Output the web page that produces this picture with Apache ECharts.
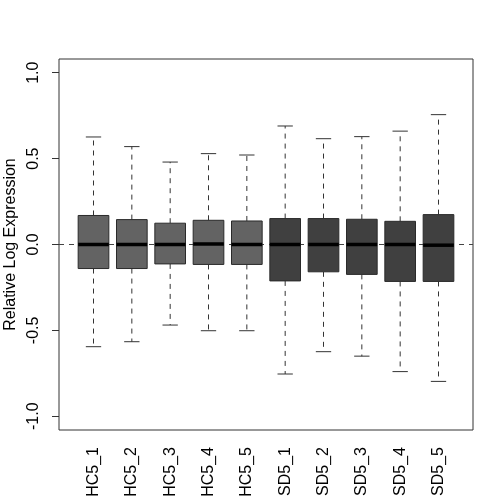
<!DOCTYPE html>
<html>
<head>
<meta charset="utf-8">
<script src="https://cdn.jsdelivr.net/npm/echarts@6/dist/echarts.min.js"></script>
<style>
  html, body { margin: 0; padding: 0; background: #fff; }
  #main { width: 504px; height: 504px; }
</style>
</head>
<body>
<div id="main"></div>
<script>
// samples, left to right
var samples = ['HC5_1', 'HC5_2', 'HC5_3', 'HC5_4', 'HC5_5', 'SD5_1', 'SD5_2', 'SD5_3', 'SD5_4', 'SD5_5'];
// box statistics
var whiskerLow  = [-0.595, -0.566, -0.469, -0.502, -0.502, -0.754, -0.624, -0.650, -0.740, -0.797];
var q1          = [-0.140, -0.140, -0.113, -0.116, -0.116, -0.212, -0.159, -0.174, -0.215, -0.215];
var medians     = [0.000, 0.000, 0.000, 0.003, 0.000, 0.000, 0.000, 0.000, 0.000, -0.004];
var q3          = [0.169, 0.145, 0.124, 0.141, 0.137, 0.151, 0.151, 0.147, 0.135, 0.174];
var whiskerHigh = [0.626, 0.570, 0.480, 0.529, 0.521, 0.690, 0.616, 0.628, 0.660, 0.756];
// group of each sample (0 = HC, 1 = SD)
var groups = [0, 0, 0, 0, 0, 1, 1, 1, 1, 1];
var yTicks = [-1, -0.5, 0, 0.5, 1];

var fills = ['#636363', '#404040'];
var font = 'Liberation Sans, Arial, Helvetica, sans-serif';

var boxData = samples.map(function(s, i) {
	return [i + 1, whiskerLow[i], q1[i], medians[i], q3[i], whiskerHigh[i], groups[i]];
});
var xTicks = samples.map(function(s, i) { return i + 1; });

var myChart = echarts.init(document.getElementById('main'), null, { renderer: 'canvas' });

function renderBox(params, api) {
	var x = api.value(0);
	var w = api.size([0.8, 0])[0];
	var pLow = api.coord([x, api.value(1)]);
	var pQ1 = api.coord([x, api.value(2)]);
	var pMed = api.coord([x, api.value(3)]);
	var pQ3 = api.coord([x, api.value(4)]);
	var pHigh = api.coord([x, api.value(5)]);
	var cx = pMed[0];
	var dash = { stroke: '#333', lineWidth: 1, lineDash: [5, 5] };
	var solid = { stroke: '#333', lineWidth: 1 };
	return {
		type: 'group',
		children: [
			{ type: 'line', shape: { x1: cx, y1: pQ3[1], x2: cx, y2: pHigh[1] }, style: dash },
			{ type: 'line', shape: { x1: cx, y1: pQ1[1], x2: cx, y2: pLow[1] }, style: dash },
			{ type: 'line', shape: { x1: cx - w / 4, y1: pHigh[1], x2: cx + w / 4, y2: pHigh[1] }, style: solid },
			{ type: 'line', shape: { x1: cx - w / 4, y1: pLow[1], x2: cx + w / 4, y2: pLow[1] }, style: solid },
			{ type: 'rect', shape: { x: cx - w / 2, y: pQ3[1], width: w, height: pQ1[1] - pQ3[1] },
				style: { fill: fills[api.value(6)], stroke: '#2a2a2a', lineWidth: 1 } },
			{ type: 'line', shape: { x1: cx - w / 2, y1: pMed[1], x2: cx + w / 2, y2: pMed[1] },
				style: { stroke: '#000', lineWidth: 3.5 } }
		]
	};
}

var option = {
	backgroundColor: '#fff',
	animation: false,
	grid: {
		left: 59, top: 59, right: 31, bottom: 74,
		outerBoundsMode: 'none',
		containLabel: false,
		show: true, borderColor: '#333', borderWidth: 1, backgroundColor: 'transparent'
	},
	xAxis: {
		type: 'value',
		min: 0.1, max: 10.9,
		axisLine: { show: false },
		splitLine: { show: false },
		axisTick: { show: true, length: 7, customValues: xTicks, lineStyle: { color: '#333' } },
		axisLabel: {
			customValues: xTicks,
			rotate: 90,
			margin: 17,
			fontSize: 16,
			fontFamily: font,
			color: '#000',
			formatter: function(v) { return samples[Math.round(v) - 1] || ''; }
		}
	},
	yAxis: {
		type: 'value',
		min: -1.08, max: 1.08,
		name: 'Relative Log Expression',
		nameLocation: 'middle',
		nameGap: 40,
		nameTextStyle: { fontSize: 16, fontFamily: font, color: '#000' },
		axisLine: { show: false },
		splitLine: { show: false },
		axisTick: { show: true, length: 7, customValues: yTicks, lineStyle: { color: '#333' } },
		axisLabel: {
			customValues: yTicks,
			rotate: 90,
			margin: 17,
			fontSize: 16,
			fontFamily: font,
			color: '#000',
			formatter: function(v) { return v.toFixed(1); }
		}
	},
	series: [{
		type: 'line',
		data: [],
		silent: true,
		z: 1,
		markLine: {
			symbol: 'none',
			silent: true,
			z: 1,
			label: { show: false },
			lineStyle: { color: '#444', type: [5, 5], width: 1 },
			data: [{ yAxis: 0 }]
		}
	}, {
		type: 'custom',
		renderItem: renderBox,
		encode: { x: 0, y: [1, 2, 3, 4, 5] },
		data: boxData,
		z: 3
	}]
};

myChart.setOption(option);
</script>
</body>
</html>
